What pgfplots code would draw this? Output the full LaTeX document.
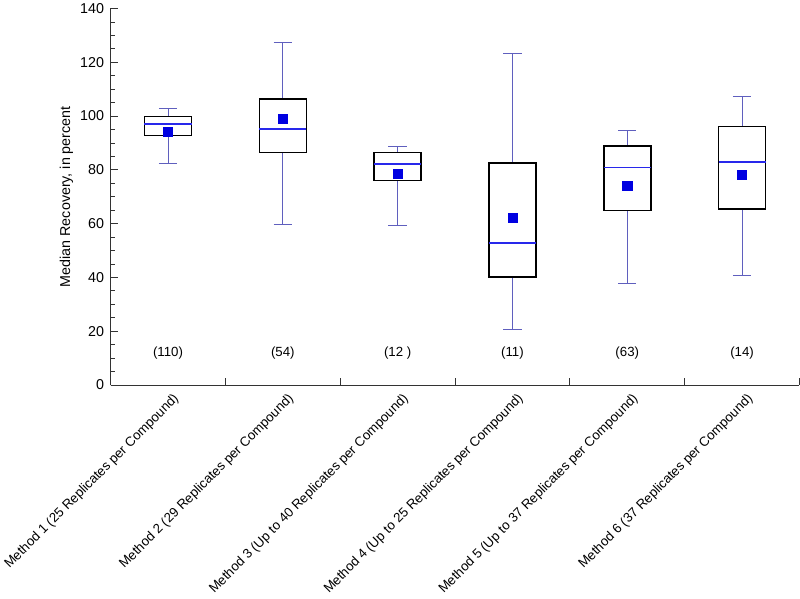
\documentclass[border=0pt]{standalone}
\usepackage{pgfplots}
\pgfplotsset{compat=1.18}
\usepgfplotslibrary{statistics}
\usepackage{fontspec}
\setmainfont{Liberation Sans}
\definecolor{whisk}{RGB}{95,95,190}
\definecolor{med}{RGB}{40,40,235}
\definecolor{meanc}{RGB}{0,0,225}
\begin{document}
\begin{tikzpicture}
\begin{axis}[
  scale only axis, width=675pt, height=369pt,
  xmin=0.5, xmax=6.5, ymin=0, ymax=140,
  axis lines*=left,
  axis line style={line width=1pt, black!80},
  clip=false,
  ytick={0,20,...,140}, minor y tick num=3,
  tick align=inside,
  major tick length=7pt, minor tick length=4pt,
  tick style={black!80, line width=0.8pt},
  xtick={0.5,1.5,...,6.5},
  x tick label as interval,
  xticklabels={Method 1 (25 Replicates per Compound),Method 2 (29 Replicates per Compound),Method 3 (Up to 40 Replicates per Compound),Method 4 (Up to 25 Replicates per Compound),Method 5 (Up to 37 Replicates per Compound),Method 6 (37 Replicates per Compound)},
  x tick label style={rotate=45, anchor=north east, font=\fontsize{13}{15}\selectfont, inner sep=2pt, yshift=-6pt},
  y tick label style={font=\fontsize{14}{16}\selectfont, xshift=-3pt},
  /pgf/number format/assume math mode=true,
  ylabel={Median Recovery, in percent},
  ylabel style={font=\fontsize{14}{16}\selectfont, yshift=0pt},
  boxplot/draw direction=y,
  boxplot/every whisker/.style={draw=whisk, line width=0.8pt},
  boxplot/every median/.style={draw=med, line width=1.8pt},
  boxplot/every box/.style={draw=black, line width=1.5pt},
]
\addplot[boxplot prepared={draw position=1, median=97, upper quartile=99.8, lower quartile=92.7, upper whisker=102.9, lower whisker=82.4, box extend=0.41, whisker extend=0.16}] coordinates {};
\addplot[boxplot prepared={draw position=2, median=95.1, upper quartile=106.3, lower quartile=86.5, upper whisker=127.3, lower whisker=59.9, box extend=0.41, whisker extend=0.16}] coordinates {};
\addplot[boxplot prepared={draw position=3, median=82.3, upper quartile=86.5, lower quartile=76.1, upper whisker=88.8, lower whisker=59.3, box extend=0.41, whisker extend=0.16}] coordinates {};
\addplot[boxplot prepared={draw position=4, median=52.7, upper quartile=82.6, lower quartile=40.1, upper whisker=123.3, lower whisker=20.7, box extend=0.41, whisker extend=0.16}] coordinates {};
\addplot[boxplot prepared={draw position=5, median=80.9, upper quartile=88.8, lower quartile=64.9, upper whisker=94.7, lower whisker=37.8, box extend=0.41, whisker extend=0.16}] coordinates {};
\addplot[boxplot prepared={draw position=6, median=82.8, upper quartile=96.2, lower quartile=65.4, upper whisker=107.2, lower whisker=40.6, box extend=0.41, whisker extend=0.16}] coordinates {};
\addplot[only marks, mark=square*, mark size=4.5pt, meanc] coordinates {(1,94.1)(2,99)(3,78.6)(4,62.2)(5,74)(6,78.3)};
\addplot[draw=none, mark=none, nodes near coords, point meta=explicit symbolic,
  nodes near coords style={anchor=center, font=\fontsize{13}{15}\selectfont, text=black}]
  coordinates {(1,12)[(110)] (2,12)[(54)] (3,12)[(12 )] (4,12)[(11)] (5,12)[(63)] (6,12)[(14)]};
\end{axis}
\end{tikzpicture}
\end{document}
